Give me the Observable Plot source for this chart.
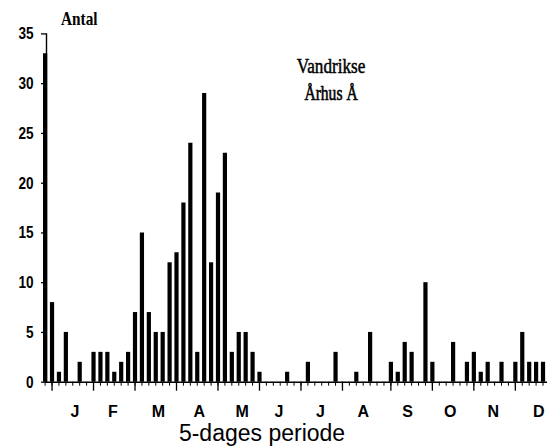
<!DOCTYPE html>
<html><head><meta charset="utf-8">
<script src="https://cdn.jsdelivr.net/npm/d3@7"></script>
<script src="https://cdn.jsdelivr.net/npm/@observablehq/plot@0.6"></script>
<style>body{margin:0;background:#fff} svg{display:block}</style>
</head><body><div id="chart"></div>
<script>
const periods = d3.range(1, 74);
const counts = [33, 8, 1, 5, 0, 2, 0, 3, 3, 3, 1, 2, 3, 7, 15, 7, 5, 5, 12, 13, 18, 24, 3, 29, 12, 19, 23, 3, 5, 5, 3, 1, 0, 0, 0, 1, 0, 0, 2, 0, 0, 0, 3, 0, 0, 1, 0, 5, 0, 0, 2, 1, 4, 3, 0, 10, 2, 0, 0, 4, 0, 2, 3, 1, 2, 0, 2, 0, 2, 5, 2, 2, 2];
const yTicks = [0, 5, 10, 15, 20, 25, 30, 35];
const monthLetters = ["J", "F", "M", "A", "M", "J", "J", "A", "S", "O", "N", "D"];
const monthLabelPeriods = [5.3, 10.8, 17.4, 23.3, 29.5, 34.8, 40.8, 47, 53.4, 59.6, 65.8, 72.4];
const monthStartPeriods = [2, 8, 14, 20, 26, 32, 38, 44, 51, 57, 63, 69];
const yLabel = "Antal";
const title1 = "Vandrikse";
const title2 = "Århus Å";
const xLabel = "5-dages periode";

const data = periods.map((p, i) => ({period: p, count: counts[i]}));

const chart = Plot.plot({
  width: 547, height: 446,
  marginLeft: 46, marginRight: 0, marginTop: 33.4, marginBottom: 64.3,
  style: {fontFamily: "'Liberation Sans', Arial, sans-serif", background: "#fff", color: "#000"},
  x: {domain: [1.2, 73.65]},
  y: {domain: [0, 35]},
  marks: [
    Plot.ruleX(data.filter(d => d.count > 0), {x: "period", y1: 0, y2: "count", stroke: "#000", strokeWidth: 4.2}),
    Plot.frame({anchor: "left", stroke: "#000", strokeWidth: 1.4}),
    Plot.frame({anchor: "bottom", stroke: "#000", strokeWidth: 1.4}),
    Plot.axisY({ticks: yTicks, tickSize: 5, tickPadding: 8, label: null, fontSize: 17, fontWeight: "bold", strokeWidth: 1.3}),
    Plot.axisX({ticks: periods, tickSize: 4, tickFormat: () => "", label: null}),
    Plot.axisX({ticks: monthStartPeriods, tickSize: 9, tickFormat: () => "", label: null, strokeWidth: 1.3}),
    Plot.axisX({ticks: monthLabelPeriods, tickSize: 0, tickPadding: 23, tickFormat: d => monthLetters[monthLabelPeriods.indexOf(d)], label: null, fontSize: 16, fontWeight: "bold"})
  ]
});

const svg = d3.select(chart);
// condense y tick labels horizontally like the scanned original
svg.selectAll("g[aria-label='y-axis tick label'] text").each(function () {
  const t = this.getAttribute("transform") || "";
  this.setAttribute("transform", t + " scale(0.8,1)");
});

function addText(str, x, y, opts) {
  const g = svg.append("g").attr("transform", `translate(${x},${y}) scale(${opts.sx || 1},1)`);
  g.append("text")
    .attr("text-anchor", opts.anchor || "start")
    .attr("font-family", opts.family)
    .attr("font-weight", opts.weight || "normal")
    .attr("font-size", opts.size)
    .attr("fill", "#000")
    .attr("stroke", opts.stroke ? "#000" : "none")
    .attr("stroke-width", opts.stroke || 0)
    .text(str);
}
const serif = "'Liberation Serif', 'Times New Roman', serif";
const sans = "'Liberation Sans', Arial, sans-serif";
addText(yLabel, 61, 25, {family: serif, weight: "bold", size: 18, sx: 0.85});
addText(title1, 331, 73, {family: serif, size: 22, sx: 0.78, anchor: "middle", stroke: 0.5});
addText(title2, 331, 100, {family: serif, size: 20, sx: 0.78, anchor: "middle", stroke: 0.6});
addText(xLabel, 262, 441, {family: sans, size: 23, anchor: "middle"});

document.getElementById("chart").appendChild(chart);
</script>
</body></html>
